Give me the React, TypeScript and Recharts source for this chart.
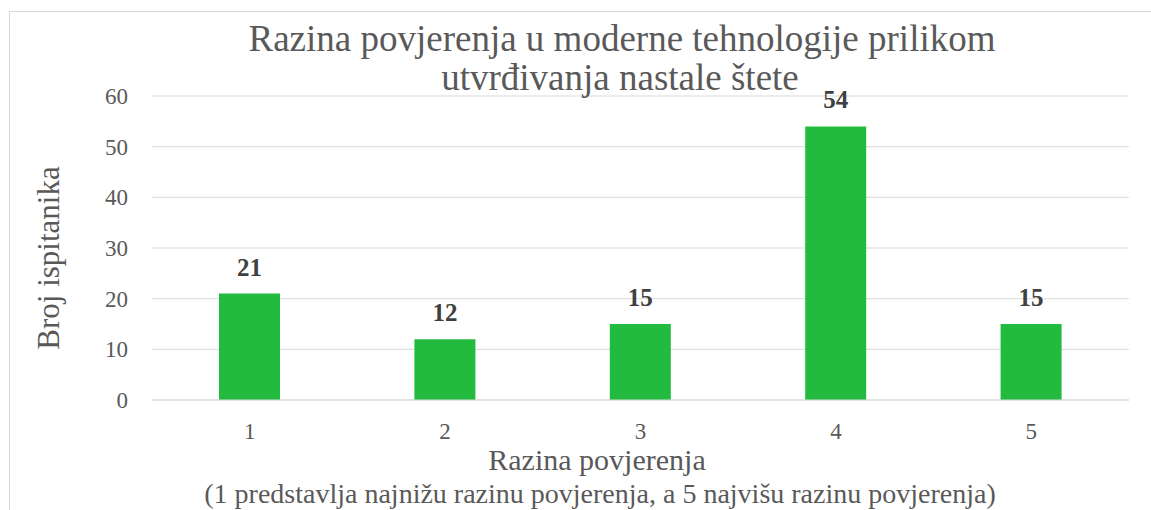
import React from "react";
import { BarChart, Bar, XAxis, YAxis, CartesianGrid, LabelList } from "recharts";

const categories = ["1", "2", "3", "4", "5"];
const counts = [21, 12, 15, 54, 15];
const yTicks = [0, 10, 20, 30, 40, 50, 60];

const titleLine1 = "Razina povjerenja u moderne tehnologije prilikom";
const titleLine2 = "utvrđivanja nastale štete";
const yTitle = "Broj ispitanika";
const xTitle = "Razina povjerenja";
const xSubtitle = "(1 predstavlja najnižu razinu povjerenja, a 5 najvišu razinu povjerenja)";

const data = categories.map((c, i) => ({ cat: c, value: counts[i] }));

const FONT = "Liberation Serif, LiberationSerif, Tinos, DejaVu Serif, Noto Serif, Times New Roman, Times, serif";
const TEXT = "#595959";

export default function App() {
  return (
    <div style={{ position: "absolute", left: 0, top: 0, width: 1151, height: 510, overflow: "hidden", background: "#fff", fontFamily: FONT }}>
      <div
        style={{
          position: "absolute",
          left: 9,
          top: 11,
          width: 1300,
          height: 700,
          border: "1px solid #d9d9d9",
          boxSizing: "border-box",
        }}
      />
      <div style={{ position: "absolute", left: 0, top: 0 }}>
        <BarChart
          width={1151}
          height={510}
          data={data}
          margin={{ top: 96, right: 22, bottom: 80, left: 72 }}
          style={{ fontFamily: FONT }}
        >
          <CartesianGrid vertical={false} stroke="#d9d9d9" strokeWidth={1} />
          <XAxis
            dataKey="cat"
            height={30}
            axisLine={{ stroke: "#d9d9d9" }}
            tickLine={false}
            tickSize={0}
            tickMargin={23}
            tick={{ fill: TEXT, fontSize: 23, fontFamily: FONT }}
          />
          <YAxis
            width={80}
            domain={[0, 60]}
            ticks={yTicks}
            axisLine={false}
            tickLine={false}
            tickSize={0}
            tickMargin={24}
            tick={{ fill: TEXT, fontSize: 23, fontFamily: FONT }}
          />
          <Bar dataKey="value" fill="#22bb40" barSize={61} isAnimationActive={false}>
            <LabelList
              dataKey="value"
              position="top"
              offset={18}
              fill="#404040"
              fontSize={25}
              fontWeight="bold"
              fontFamily={FONT}
            />
          </Bar>
        </BarChart>
      </div>
      <svg width={1151} height={510} style={{ position: "absolute", left: 0, top: 0, pointerEvents: "none" }}>
        <text x={622} y={51} textAnchor="middle" style={{ fontFamily: FONT }} fontSize={37} fill={TEXT}>
          {titleLine1}
        </text>
        <text x={620} y={90} textAnchor="middle" style={{ fontFamily: FONT }} fontSize={37} fill={TEXT}>
          {titleLine2}
        </text>
        <text
          x={0}
          y={0}
          transform="translate(59,258) rotate(-90)"
          textAnchor="middle"
          style={{ fontFamily: FONT }}
          fontSize={31}
          fill={TEXT}
        >
          {yTitle}
        </text>
        <text x={597} y={470} textAnchor="middle" style={{ fontFamily: FONT }} fontSize={30} fill={TEXT}>
          {xTitle}
        </text>
        <text x={600} y={503} textAnchor="middle" style={{ fontFamily: FONT }} fontSize={28} fill={TEXT}>
          {xSubtitle}
        </text>
      </svg>
    </div>
  );
}
